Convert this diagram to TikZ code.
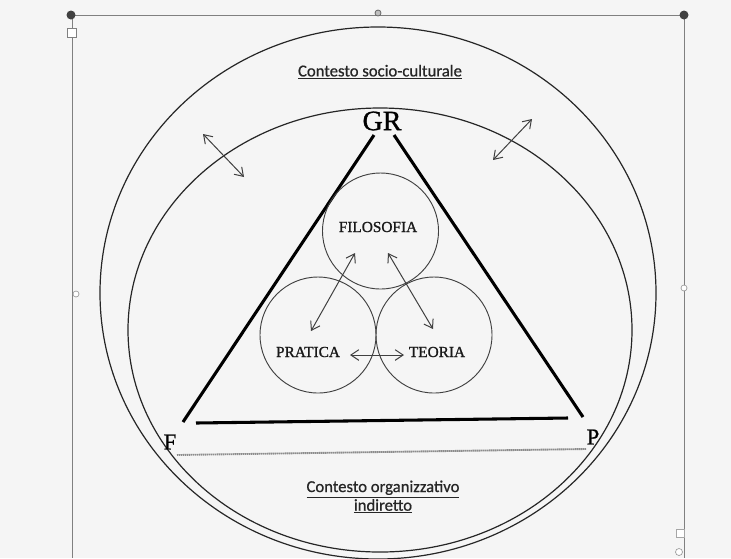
\documentclass[tikz,border=0pt]{standalone}
\usepackage{fontspec}
\setmainfont{Liberation Serif}[FakeBold=1.2]
\newfontfamily\serifbold{Liberation Serif}[FakeBold=1.0]
\newfontfamily\calib{Carlito}[FakeBold=0.8]
\usetikzlibrary{arrows.meta}
\begin{document}
\begin{tikzpicture}[x=0.75pt,y=-0.75pt,
  frameline/.style={draw=black!50,line width=0.7pt},
  ring/.style={draw=black!85,line width=0.9pt},
  side/.style={draw=black,line width=2.3pt},
  bubble/.style={circle,draw=black!75,line width=0.7pt,minimum size=116*0.75pt,inner sep=0pt},
  dbl/.style={draw=black!75,line width=0.75pt,{Straight Barb[length=6pt,width=8pt]}-{Straight Barb[length=6pt,width=8pt]}},
  lbl/.style={font=\serifbold\fontsize{11.5}{13}\selectfont,text=black!90},
  corner/.style={font=\serifbold\fontsize{17}{19}\selectfont},
  ctx/.style={font=\calib\fontsize{12.5}{15}\selectfont,align=center,text=black!85}]
\useasboundingbox (0,0) rectangle (731,558);
\fill[black!4] (0,0) rectangle (731,558);
% frame of the selected object
\draw[frameline] (72,558) -- (72,15) -- (684,15) -- (684,558);
\fill[black!75] (71,15) circle (4.5);
\fill[black!75] (684,15) circle (4.5);
\draw[black!60,fill=black!25,line width=0.6pt] (378,13) circle (3);
\draw[black!50,fill=white,line width=0.6pt] (67.5,28.5) rectangle (76.5,37.5);
\draw[black!40,fill=white,line width=0.5pt] (76,294) circle (3);
\draw[black!40,fill=white,line width=0.5pt] (684,288) circle (3);
\draw[black!35,fill=white,line width=0.5pt] (676,529) rectangle (684,537);
\draw[black!40,fill=white,line width=0.5pt] (679,552) circle (3.5);
% contexts
\draw[ring] (378,293) ellipse [x radius=278,y radius=266];
\draw[ring] (380,330) ellipse [x radius=252,y radius=222];
% triangle
\coordinate (t1) at (374,135);
\coordinate (t2) at (183,422);
\coordinate (t3) at (394,135);
\coordinate (t4) at (583,417);
\coordinate (b1) at (196,423);
\coordinate (b2) at (568,418);
\draw[side] (t1) -- (t2);
\draw[side] (t3) -- (t4);
\draw[side] (b1) -- (b2);
\coordinate (g1) at (177,455);
\coordinate (g2) at (586,449);
\draw[black!45,line width=1.4pt,dash pattern=on 1pt off 0.5pt] (g1) -- (g2);
% labels of corners
\node[font=\serifbold\fontsize{21}{23}\selectfont] (gr) at (382,121) {GR};
\node[corner] (f) at (170,442) {F};
\node[corner] (p) at (593,437) {P};
% bubbles
\node[bubble] (fil) at (380.5,231) {};
\node[bubble] (pra) at (318,335) {};
\node[bubble] (teo) at (434,335) {};
\node[lbl] (tfil) at (378,227) {FILOSOFIA};
\node[lbl] (tpra) at (308,352) {PRATICA};
\node[lbl] (tteo) at (437,352) {TEORIA};
% arrows
\coordinate (a1) at (311,331); \coordinate (a2) at (355,253);
\coordinate (a3) at (388,253); \coordinate (a4) at (433,329);
\coordinate (a5) at (350,355); \coordinate (a6) at (404,355);
\draw[dbl] (a1) -- (a2);
\draw[dbl] (a3) -- (a4);
\draw[dbl] (a5) -- (a6);
\coordinate (o1) at (203,134); \coordinate (o2) at (244,177);
\coordinate (o3) at (532,119); \coordinate (o4) at (493,160);
\draw[dbl] (o1) -- (o2);
\draw[dbl] (o3) -- (o4);
% context texts
\node[ctx] (sc) at (380,72) {\underline{Contesto socio-culturale}};
\node[ctx] (org) at (383,497) {\underline{Contesto organizzativo}\\[-1pt]\underline{indiretto}};
\end{tikzpicture}
\end{document}
